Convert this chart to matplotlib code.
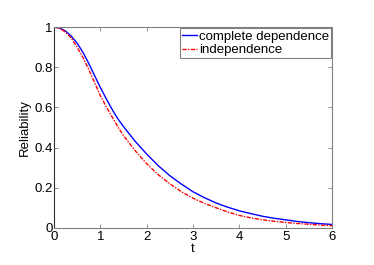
import matplotlib
matplotlib.use("Agg")
import matplotlib.pyplot as plt

t = [0, 0.125, 0.25, 0.375, 0.5, 0.625, 0.75, 0.875, 1.0, 1.125, 1.25,
     1.375, 1.5, 1.75, 2.0, 2.25, 2.5, 2.75, 3.0, 3.25, 3.5, 3.75, 4.0,
     4.25, 4.5, 4.75, 5.0, 5.25, 5.5, 5.75, 6.0]
rel_dep = [1.0, 0.995, 0.98, 0.955, 0.92, 0.875, 0.82, 0.76, 0.70, 0.645,
           0.592, 0.545, 0.505, 0.432, 0.368, 0.31, 0.26, 0.218, 0.18, 0.15,
           0.124, 0.103, 0.085, 0.071, 0.058, 0.048, 0.04, 0.032, 0.026,
           0.021, 0.017]
rel_indep = [1.0, 0.993, 0.975, 0.945, 0.90, 0.85, 0.79, 0.725, 0.66, 0.605,
             0.555, 0.505, 0.46, 0.385, 0.32, 0.265, 0.22, 0.18, 0.148,
             0.122, 0.10, 0.079, 0.062, 0.05, 0.04, 0.033, 0.027, 0.022,
             0.018, 0.014, 0.011]

plt.rcParams['font.family'] = ['Liberation Sans', 'DejaVu Sans']

fig = plt.figure(figsize=(3.74, 2.65), dpi=100)
ax = fig.add_axes([0.144, 0.14, 0.744, 0.758])

ax.plot(t, rel_dep, color='#0000ff', lw=1.0, label='complete dependence')
ax.plot(t, rel_indep, color='#ff0000', lw=1.0, ls=(0, (3, 1, 1, 1)),
        label='independence')

ax.set_xlim(0, 6)
ax.set_ylim(0, 1)
ax.set_xticks(range(7))
ax.set_yticks([0, 0.2, 0.4, 0.6, 0.8, 1])
ax.set_yticklabels(['0', '0.2', '0.4', '0.6', '0.8', '1'])
ax.tick_params(direction='in', length=3, width=0.6, color='#808080',
               labelsize=9.5, top=True, right=True)
ax.tick_params(axis='x', pad=2)
ax.tick_params(axis='y', pad=1)
for name, s in ax.spines.items():
    s.set_color('#303030' if name == 'left' else '#808080')
    s.set_linewidth(0.8)

ax.set_xlabel('t', fontsize=9.5, labelpad=0)
ax.set_ylabel('Reliability', fontsize=9.5, labelpad=2)

leg = ax.legend(loc='upper right', fontsize=9.5, fancybox=False,
                framealpha=1, edgecolor='#808080', handlelength=1.1,
                handletextpad=0.15, borderpad=0.15, labelspacing=0.1,
                borderaxespad=0.1)
leg.get_frame().set_linewidth(0.8)

fig.savefig('out.png', dpi=100)
